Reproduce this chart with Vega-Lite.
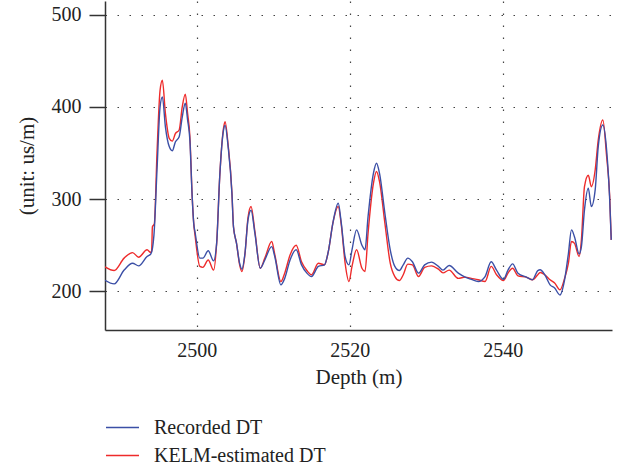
{
  "$schema": "https://vega.github.io/schema/vega-lite/v6.json",
  "autosize": {"type": "none"},
  "padding": {"left": 105, "top": 1, "right": 7, "bottom": 138},
  "width": 507,
  "height": 329,
  "background": "white",
  "config": {
    "view": {"stroke": null},
    "font": "Liberation Serif",
    "axis": {"labelFont": "Liberation Serif", "titleFont": "Liberation Serif", "labelColor": "#222", "titleColor": "#222", "titleFontWeight": "normal"},
    "legend": {"labelFont": "Liberation Serif"}
  },
  "datasets": {
    "rec": [
      {"d": 2488.0, "v": 212}, {"d": 2489.2, "v": 208}, {"d": 2490.5, "v": 223}, {"d": 2491.6, "v": 230.5},
      {"d": 2492.4, "v": 227.6}, {"d": 2493.5, "v": 237.7}, {"d": 2494.0, "v": 240.6}, {"d": 2494.4, "v": 261},
      {"d": 2494.8, "v": 331.6}, {"d": 2495.2, "v": 400}, {"d": 2495.5, "v": 411}, {"d": 2495.9, "v": 378.5},
      {"d": 2496.4, "v": 357}, {"d": 2496.8, "v": 352.5}, {"d": 2497.2, "v": 362}, {"d": 2497.7, "v": 367.7},
      {"d": 2498.1, "v": 389}, {"d": 2498.5, "v": 404}, {"d": 2498.8, "v": 386}, {"d": 2499.1, "v": 364},
      {"d": 2499.4, "v": 302.7}, {"d": 2499.6, "v": 274}, {"d": 2499.8, "v": 263}, {"d": 2500.4, "v": 236},
      {"d": 2500.8, "v": 236}, {"d": 2501.5, "v": 244}, {"d": 2502.2, "v": 233}, {"d": 2502.6, "v": 252},
      {"d": 2503.0, "v": 324}, {"d": 2503.5, "v": 375}, {"d": 2503.7, "v": 380}, {"d": 2504.1, "v": 357},
      {"d": 2504.6, "v": 306}, {"d": 2504.8, "v": 270}, {"d": 2505.2, "v": 252}, {"d": 2505.6, "v": 230.5},
      {"d": 2505.9, "v": 224}, {"d": 2506.3, "v": 241}, {"d": 2506.7, "v": 277.5}, {"d": 2507.1, "v": 288},
      {"d": 2507.6, "v": 263}, {"d": 2508.3, "v": 225}, {"d": 2508.9, "v": 234}, {"d": 2509.8, "v": 248.5},
      {"d": 2510.2, "v": 237.7}, {"d": 2511.0, "v": 207}, {"d": 2511.5, "v": 214}, {"d": 2512.2, "v": 234},
      {"d": 2513.0, "v": 245}, {"d": 2513.7, "v": 228.7}, {"d": 2514.4, "v": 219.7}, {"d": 2515.0, "v": 216},
      {"d": 2515.9, "v": 227}, {"d": 2516.7, "v": 228.7}, {"d": 2517.2, "v": 243}, {"d": 2517.8, "v": 274},
      {"d": 2518.5, "v": 295.5}, {"d": 2518.9, "v": 274}, {"d": 2519.4, "v": 237.7}, {"d": 2519.9, "v": 228.7},
      {"d": 2520.3, "v": 245}, {"d": 2520.9, "v": 266.6}, {"d": 2521.6, "v": 250}, {"d": 2522.0, "v": 245},
      {"d": 2522.4, "v": 281}, {"d": 2523.1, "v": 328}, {"d": 2523.5, "v": 339}, {"d": 2523.9, "v": 328},
      {"d": 2524.6, "v": 284.7}, {"d": 2525.3, "v": 245}, {"d": 2525.9, "v": 227}, {"d": 2526.5, "v": 222.5},
      {"d": 2527.0, "v": 228.7}, {"d": 2527.6, "v": 236}, {"d": 2528.2, "v": 232}, {"d": 2529.0, "v": 219.7},
      {"d": 2529.8, "v": 228.7}, {"d": 2530.7, "v": 231.6}, {"d": 2531.6, "v": 227}, {"d": 2532.2, "v": 223},
      {"d": 2533.0, "v": 228}, {"d": 2534.2, "v": 219.7}, {"d": 2535.1, "v": 215.4}, {"d": 2535.9, "v": 213},
      {"d": 2536.8, "v": 210.6}, {"d": 2537.7, "v": 216}, {"d": 2538.5, "v": 232}, {"d": 2539.2, "v": 223},
      {"d": 2540.1, "v": 213}, {"d": 2540.7, "v": 223}, {"d": 2541.3, "v": 229.8}, {"d": 2542.0, "v": 219.7},
      {"d": 2543.1, "v": 215.4}, {"d": 2543.9, "v": 212.5}, {"d": 2544.6, "v": 222.5}, {"d": 2544.9, "v": 223.3},
      {"d": 2545.5, "v": 218}, {"d": 2546.2, "v": 207}, {"d": 2546.8, "v": 203.5}, {"d": 2547.5, "v": 196},
      {"d": 2548.1, "v": 212.5}, {"d": 2548.6, "v": 241}, {"d": 2549.0, "v": 266.6}, {"d": 2549.4, "v": 259},
      {"d": 2550.0, "v": 240.6}, {"d": 2550.3, "v": 248.5}, {"d": 2550.7, "v": 288.3}, {"d": 2551.2, "v": 311.8},
      {"d": 2551.6, "v": 292}, {"d": 2552.1, "v": 310}, {"d": 2552.5, "v": 357}, {"d": 2553.1, "v": 380.4},
      {"d": 2553.6, "v": 353}, {"d": 2554.0, "v": 299}, {"d": 2554.2, "v": 255.8}
    ],
    "kelm": [
      {"d": 2488.0, "v": 226.5}, {"d": 2489.2, "v": 222.5}, {"d": 2490.5, "v": 236}, {"d": 2491.6, "v": 242},
      {"d": 2492.4, "v": 237}, {"d": 2493.5, "v": 245}, {"d": 2494.0, "v": 242}, {"d": 2494.1, "v": 244},
      {"d": 2494.2, "v": 270}, {"d": 2494.45, "v": 273}, {"d": 2494.8, "v": 350}, {"d": 2495.2, "v": 418},
      {"d": 2495.5, "v": 429}, {"d": 2495.9, "v": 393}, {"d": 2496.4, "v": 366}, {"d": 2496.8, "v": 363},
      {"d": 2497.2, "v": 371}, {"d": 2497.7, "v": 375}, {"d": 2498.1, "v": 400}, {"d": 2498.5, "v": 414},
      {"d": 2498.8, "v": 393}, {"d": 2499.1, "v": 368}, {"d": 2499.4, "v": 303}, {"d": 2499.6, "v": 274},
      {"d": 2499.8, "v": 259}, {"d": 2500.4, "v": 227}, {"d": 2500.8, "v": 226}, {"d": 2501.5, "v": 234},
      {"d": 2502.2, "v": 223}, {"d": 2502.6, "v": 252}, {"d": 2503.0, "v": 324}, {"d": 2503.5, "v": 377},
      {"d": 2503.7, "v": 384}, {"d": 2504.1, "v": 359}, {"d": 2504.6, "v": 307}, {"d": 2504.8, "v": 270},
      {"d": 2505.2, "v": 252}, {"d": 2505.6, "v": 229}, {"d": 2505.9, "v": 221.5}, {"d": 2506.3, "v": 240},
      {"d": 2506.7, "v": 280}, {"d": 2507.1, "v": 292}, {"d": 2507.6, "v": 265}, {"d": 2508.3, "v": 225},
      {"d": 2508.9, "v": 236}, {"d": 2509.8, "v": 254}, {"d": 2510.2, "v": 240}, {"d": 2511.0, "v": 210.6},
      {"d": 2511.5, "v": 219.7}, {"d": 2512.2, "v": 239.5}, {"d": 2513.0, "v": 250}, {"d": 2513.7, "v": 232},
      {"d": 2514.4, "v": 222.5}, {"d": 2515.0, "v": 218}, {"d": 2515.9, "v": 230.5}, {"d": 2516.7, "v": 228.7},
      {"d": 2517.2, "v": 243}, {"d": 2517.8, "v": 274}, {"d": 2518.5, "v": 292}, {"d": 2518.9, "v": 272},
      {"d": 2519.4, "v": 230.5}, {"d": 2519.9, "v": 210.6}, {"d": 2520.3, "v": 227}, {"d": 2520.9, "v": 245},
      {"d": 2521.6, "v": 225}, {"d": 2522.0, "v": 221.5}, {"d": 2522.4, "v": 263}, {"d": 2523.1, "v": 317},
      {"d": 2523.5, "v": 330}, {"d": 2523.9, "v": 319}, {"d": 2524.6, "v": 274}, {"d": 2525.3, "v": 230.5},
      {"d": 2525.9, "v": 216}, {"d": 2526.5, "v": 211.7}, {"d": 2527.0, "v": 218}, {"d": 2527.6, "v": 229.5},
      {"d": 2528.2, "v": 228.7}, {"d": 2529.0, "v": 216}, {"d": 2529.8, "v": 226}, {"d": 2530.7, "v": 227.6},
      {"d": 2531.6, "v": 224}, {"d": 2532.2, "v": 220}, {"d": 2533.0, "v": 223}, {"d": 2534.2, "v": 214},
      {"d": 2535.1, "v": 215.4}, {"d": 2535.9, "v": 214}, {"d": 2536.8, "v": 212.5}, {"d": 2537.7, "v": 210.6},
      {"d": 2538.5, "v": 227}, {"d": 2539.2, "v": 218}, {"d": 2540.1, "v": 211.7}, {"d": 2540.7, "v": 219.7},
      {"d": 2541.3, "v": 225}, {"d": 2542.0, "v": 216.8}, {"d": 2543.1, "v": 215.4}, {"d": 2543.9, "v": 212.5},
      {"d": 2544.6, "v": 218}, {"d": 2544.9, "v": 220.4}, {"d": 2545.5, "v": 218}, {"d": 2546.2, "v": 212.5},
      {"d": 2546.8, "v": 209}, {"d": 2547.5, "v": 201.6}, {"d": 2548.1, "v": 214}, {"d": 2548.6, "v": 230.5},
      {"d": 2549.0, "v": 254}, {"d": 2549.4, "v": 252}, {"d": 2550.0, "v": 237.7}, {"d": 2550.3, "v": 255.8},
      {"d": 2550.7, "v": 313.5}, {"d": 2551.2, "v": 326}, {"d": 2551.6, "v": 313.5}, {"d": 2552.1, "v": 331.6},
      {"d": 2552.5, "v": 364}, {"d": 2553.1, "v": 385.8}, {"d": 2553.6, "v": 346}, {"d": 2554.0, "v": 302.7},
      {"d": 2554.2, "v": 255.8}
    ]
  },
  "layer": [
    {
      "data": {"name": "kelm"},
      "transform": [{"calculate": "'KELM-estimated DT'", "as": "s"}],
      "mark": {"type": "line", "interpolate": "monotone", "strokeWidth": 1.4, "clip": true},
      "encoding": {
        "x": {
          "field": "d", "type": "quantitative",
          "scale": {"domain": [2488, 2554.3], "nice": false, "zero": false},
          "axis": {
            "title": "Depth (m)", "values": [2500, 2520, 2540], "format": "d",
            "grid": true, "gridColor": "#444", "gridDash": [1.5, 10.5], "gridWidth": 1.2,
            "domainColor": "#333", "domainWidth": 1.5, "ticks": false,
            "labelFontSize": 20, "labelPadding": 10, "titleFontSize": 21, "titlePadding": 6
          }
        },
        "y": {
          "field": "v", "type": "quantitative",
          "scale": {"domain": [158, 515], "nice": false, "zero": false},
          "axis": {
            "title": "(unit: us/m)", "values": [200, 300, 400, 500],
            "grid": true, "gridColor": "#444", "gridDash": [1.5, 10.5], "gridWidth": 1.2,
            "domainColor": "#333", "domainWidth": 1.5, "tickColor": "#333", "tickWidth": 1.5, "tickSize": 16,
            "labelFontSize": 20, "labelPadding": 8, "titleFontSize": 21, "titlePadding": 14
          }
        },
        "color": {
          "field": "s", "type": "nominal",
          "scale": {"domain": ["Recorded DT", "KELM-estimated DT"], "range": ["#3b4fa6", "#ee2b2b"]},
          "legend": {
            "title": null, "orient": "none", "legendX": 0, "legendY": 409,
            "symbolType": "stroke", "symbolSize": 1089, "symbolStrokeWidth": 1.4,
            "labelFontSize": 20, "labelColor": "#222", "labelOffset": 14, "labelLimit": 400,
            "rowPadding": -6, "padding": 0
          }
        }
      }
    },
    {
      "data": {"name": "rec"},
      "transform": [{"calculate": "'Recorded DT'", "as": "s"}],
      "mark": {"type": "line", "interpolate": "monotone", "strokeWidth": 1.4, "clip": true},
      "encoding": {
        "x": {"field": "d", "type": "quantitative"},
        "y": {"field": "v", "type": "quantitative"},
        "color": {"field": "s", "type": "nominal"}
      }
    }
  ]
}
